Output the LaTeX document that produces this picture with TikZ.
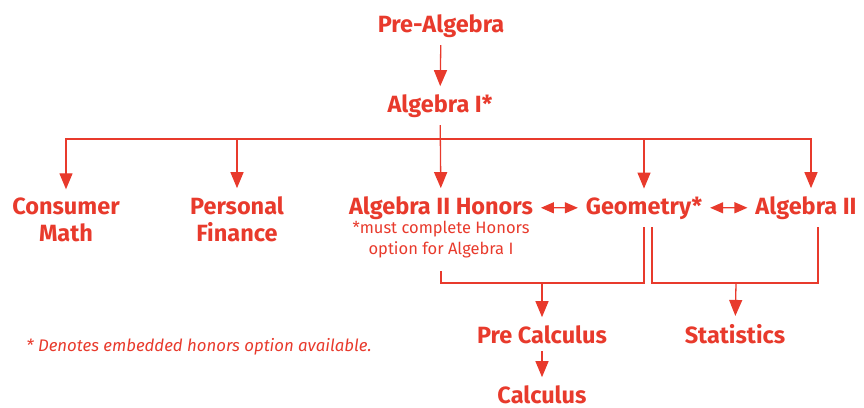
\documentclass[tikz,border=0pt]{standalone}
\usepackage{fontspec}
\setmainfont{Fira Sans}
\usetikzlibrary{arrows.meta}
\definecolor{planred}{RGB}{232,58,44}

\begin{document}
\begin{tikzpicture}[x=1pt,y=1pt,color=planred,line width=1.3pt,
  course/.style={font=\bfseries\fontsize{23.5}{27}\selectfont, align=center, inner sep=3pt, outer sep=5pt},
  remark/.style={font=\fontsize{16.5}{20.5}\selectfont, align=center, inner sep=3pt},
  >={Triangle[length=16pt,width=13pt]},
  twoway/.style={{Triangle[length=13pt,width=11pt]}-{Triangle[length=13pt,width=11pt]}}]
\useasboundingbox (0,0) rectangle (864,-407);
\node[course, anchor=base] (prealg) at (441,-32) {Pre-Algebra};
\node[course, anchor=base] (alg1) at (440,-112) {Algebra I*};
\node[course, anchor=base] (consumer) at (66,-241) {Consumer\\Math};
\node[course, anchor=base] (personal) at (237,-241) {Personal\\Finance};
\node[course, anchor=base] (a2h) at (441,-214) {Algebra II Honors};
\node[remark, anchor=base] (note) at (441,-254) {*must complete Honors\\option for Algebra I};
\node[course, anchor=base] (geo) at (644,-214) {Geometry*};
\node[course, anchor=base] (alg2) at (806,-214) {Algebra II};
\node[course, anchor=base] (precalc) at (542,-343) {Pre Calculus};
\node[course, anchor=base] (stats) at (735,-343) {Statistics};
\node[course, anchor=base] (calc) at (542,-403) {Calculus};
\node[remark, anchor=base, font=\itshape\fontsize{16.8}{20}\selectfont] (footnote) at (199,-351) {* Denotes embedded honors option available.};
\coordinate (bus) at (441,-139);
\coordinate (pcj) at (542,-283);
\coordinate (stj) at (736,-283);
% first year
\draw[->] (prealg) -- (alg1);
\draw[->] (alg1) -- (a2h);
\draw[->] (bus) -| (consumer);
\draw[->] (bus) -| (personal);
\draw[->] (bus) -| (geo);
\draw[->] (bus) -| ([xshift=5pt]alg2.north);
\draw[twoway] (a2h) -- (geo);
\draw[twoway] (geo) -- (alg2);
% brackets
\draw[line width=1.1pt, shorten <=10pt] (note) |- (pcj) -| (geo);
\draw[line width=1.1pt] ([xshift=8pt]geo.south) |- (stj) -| ([xshift=12pt]alg2.south);
\draw[->] (pcj) -- (precalc);
\draw[->] (stj) -- (stats);
\draw[->] (precalc) -- (calc);
\end{tikzpicture}
\end{document}
